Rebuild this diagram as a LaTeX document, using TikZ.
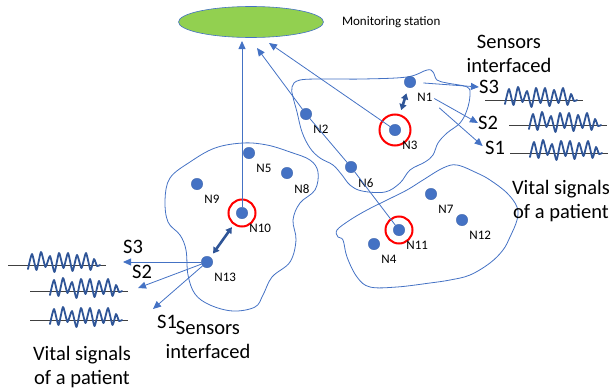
\documentclass[tikz,border=0pt]{standalone}
\usepackage{fontspec}
\setmainfont{Carlito}
\usepackage{tikz}
\usetikzlibrary{positioning}
\usetikzlibrary{arrows.meta}
\usetikzlibrary{shapes.geometric}
\definecolor{nodeblue}{HTML}{4472C4}
\definecolor{darkblue}{HTML}{2F5597}
\definecolor{stationgreen}{HTML}{92D050}
\tikzset{
  sensor/.style={circle, fill=nodeblue, draw=nodeblue!85!black, line width=0.3pt, inner sep=0pt, minimum size=11.5pt},
  ring/.style={circle, draw=red, line width=2pt, inner sep=0pt, minimum size=27pt},
  nlabel/.style={font=\fontsize{13}{15}\selectfont, inner sep=0pt},
  big text/.style={font=\fontsize{20.5}{24}\selectfont, align=center, inner sep=0pt},
  link/.style={draw=nodeblue, line width=0.8pt, -{Triangle[length=8pt,width=7pt]}},
  both way/.style={draw=darkblue, line width=2.6pt, {Triangle[length=6pt,width=7pt]}-{Triangle[length=6pt,width=7pt]}},
  field/.style={draw=nodeblue, line width=0.8pt},
  vital wave/.pic={
    \draw[black!75, line width=0.7pt] (0,0) -- (98,0);
    \draw[darkblue, line width=1.8pt, line join=round, line cap=round] plot[smooth, tension=0.35] coordinates {
      (20,4) (24,-11) (28.5,5) (33,-13) (37.5,2) (42,-9) (46.5,7) (51,-12) (55.5,3)
      (60,-12) (64.5,6) (69,-10) (73.5,3) (78,-12) (82.5,5) (86,-6) (89,1) (92,0)};
  },
}

\begin{document}
\begin{tikzpicture}[x=1pt, y=-1pt]

  \useasboundingbox (0,0) rectangle (611,391);

  % Clusters
  \draw[field] plot[smooth cycle, tension=0.6] coordinates {
    (292,87) (300,80) (330,79) (363,79) (407,77) (427,70) (433,72) (437,80)
    (447,83) (467,87) (470,95) (467,110) (460,123) (447,133) (438,143) (433,155)
    (425,162) (410,170) (400,183) (385,192) (362,191) (350,185) (342,175) (333,165)
    (320,158) (310,148) (302,132) (297,112) (293,97)};
  \draw[field] plot[smooth cycle, tension=0.6] coordinates {
    (243,143) (267,145) (290,152) (310,160) (318,172) (315,190) (300,203) (293,220)
    (296,240) (290,262) (272,277) (263,295) (255,307) (233,311) (210,305) (195,294)
    (188,275) (186,250) (180,235) (168,222) (165,200) (170,178) (190,162) (215,148)};
  \draw[field] plot[smooth cycle, tension=0.6] coordinates {
    (337,230) (350,220) (367,210) (387,200) (407,190) (423,180) (443,168) (457,165)
    (477,173) (490,180) (507,193) (517,207) (517,220) (510,237) (503,250) (490,263)
    (470,275) (450,280) (430,283) (397,287) (370,287) (357,277) (347,257) (343,240)
    (338,237)};

  % Define nodes
  \node[ellipse, fill=stationgreen, draw=nodeblue, line width=0.6pt, inner sep=0pt, minimum width=145pt, minimum height=31pt] (station) at (251,22) {};
  \node[nlabel, right=18pt of station] (stationlabel) {Monitoring station};

  \node[sensor] (n1) at (410,82) {};
  \node[sensor] (n2) at (306,114) {};
  \node[sensor] (n3) at (395,130) {};
  \node[sensor] (n4) at (374,244) {};
  \node[sensor] (n5) at (249,153) {};
  \node[sensor] (n6) at (351,167) {};
  \node[sensor] (n7) at (431,194) {};
  \node[sensor] (n8) at (287,173) {};
  \node[sensor] (n9) at (197,184) {};
  \node[sensor] (n10) at (242,213) {};
  \node[sensor] (n11) at (399,230) {};
  \node[sensor] (n12) at (462,220) {};
  \node[sensor] (n13) at (207,262) {};

  \node[ring, minimum size=31pt] (ring3) at (n3) {};
  \node[ring] (ring10) at (n10) {};
  \node[ring] (ring11) at (n11) {};

  \node[nlabel, below right=7pt and 3pt of n1] (n1l) {N1};
  \node[nlabel, below right=7pt and 3pt of n2] (n2l) {N2};
  \node[nlabel, below right=7pt and 3pt of n3] (n3l) {N3};
  \node[nlabel, below right=7pt and 3pt of n4] (n4l) {N4};
  \node[nlabel, below right=7pt and 3pt of n5] (n5l) {N5};
  \node[nlabel, below right=7pt and 3pt of n6] (n6l) {N6};
  \node[nlabel, below right=7pt and 3pt of n7] (n7l) {N7};
  \node[nlabel, below right=7pt and 3pt of n8] (n8l) {N8};
  \node[nlabel, below right=7pt and 3pt of n9] (n9l) {N9};
  \node[nlabel, below right=7pt and 3pt of n10] (n10l) {N10};
  \node[nlabel, below right=7pt and 3pt of n11] (n11l) {N11};
  \node[nlabel, below right=7pt and 3pt of n12] (n12l) {N12};
  \node[nlabel, below right=7pt and 3pt of n13] (n13l) {N13};

  % Sensors of the patients
  \node[big text] (s3r) at (489,87) {S3};
  \node[big text] (s2r) at (488,123) {S2};
  \node[big text] (s1r) at (495,148) {S1};
  \node[big text] (s3l) at (133,247) {S3};
  \node[big text] (s2l) at (142,272) {S2};
  \node[big text] (s1l) at (167,322) {S1};

  \node[big text] (sensright) at (509,54) {Sensors\\interfaced};
  \node[big text] (sensleft) at (208,340) {Sensors\\interfaced};
  \node[big text] (vitalright) at (561,201) {Vital signals\\of a patient};
  \node[big text] (vitalleft) at (82,367) {Vital signals\\of a patient};

  \pic (w3r) at (485,100) {vital wave};
  \pic (w2r) at (509,125) {vital wave};
  \pic (w1r) at (510,153) {vital wave};
  \pic (w3l) at (8,265) {vital wave};
  \pic (w2l) at (30,291) {vital wave};
  \pic (w1l) at (30,320) {vital wave};

  \coordinate (up10) at (242,41);
  \coordinate (up6) at (257,48);
  \coordinate (up3) at (269,43);
  \coordinate (to3) at (123,262);
  \coordinate (to2) at (138,288);
  \coordinate (to1) at (153,309);

  % Connect nodes
  \draw[link] (n10) -- (up10);
  \draw[link] (n11) -- (n6) -- (n2) -- (up6);
  \draw[link] (n3) -- (up3);

  \draw[both way, shorten <=15pt, shorten >=6pt] (n3) -- (n1);
  \draw[both way, shorten <=4.5pt, shorten >=11.5pt] (n13) -- (n10);

  \draw[link, shorten <=7.5pt] (n1) -- (s3r.west);
  \draw[link, shorten <=2pt] (n1l.east) -- (s2r.west);
  \draw[link, shorten <=9pt, shorten >=3pt] (n1l.south east) -- (s1r.west);

  \draw[link] (n13) -- (to3);
  \draw[link] (n13) -- (to2);
  \draw[link] (n13) -- (to1);

\end{tikzpicture}
\end{document}
